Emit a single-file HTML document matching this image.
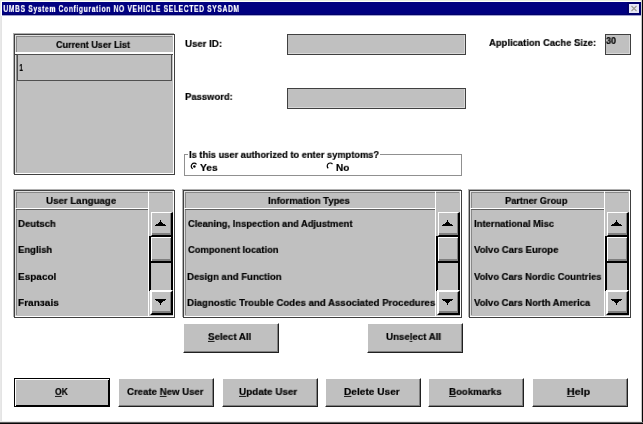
<!DOCTYPE html>
<html><head><meta charset="utf-8"><style>
html,body{margin:0;padding:0;width:643px;height:424px;overflow:hidden;background:#fff}
.t{position:absolute;will-change:transform;-webkit-text-stroke:0.2px currentColor;font-family:"Liberation Sans",sans-serif;font-weight:bold;font-size:10px;line-height:20px;white-space:nowrap;transform-origin:0 0}
u{text-decoration:underline;text-underline-offset:1px}
</style></head><body>
<div style="position:absolute;left:0px;top:0px;width:643px;height:424px;background:#fff"></div>
<div style="position:absolute;left:0px;top:0px;width:1px;height:424px;background:#e8e8e8"></div>
<div style="position:absolute;left:1px;top:16px;width:1px;height:406px;background:#e4e4e4"></div>
<div style="position:absolute;left:0px;top:0px;width:643px;height:1px;background:#e8eee0"></div>
<div style="position:absolute;left:641px;top:0px;width:1px;height:424px;background:#c8c8c8"></div>
<div style="position:absolute;left:642px;top:0px;width:1px;height:424px;background:#080808"></div>
<div style="position:absolute;left:0px;top:421px;width:642px;height:1px;background:#e8e8e8"></div>
<div style="position:absolute;left:0px;top:422px;width:643px;height:1px;background:#606060"></div>
<div style="position:absolute;left:0px;top:423px;width:643px;height:1px;background:#080808"></div>
<div style="position:absolute;left:2px;top:2px;width:639px;height:13px;background:#000080"></div>
<div style="position:absolute;left:2px;top:14px;width:639px;height:1px;background:#000068"></div>
<div style="position:absolute;left:2px;top:15px;width:639px;height:1px;background:#a0a0d0"></div>
<div style="position:absolute;left:627px;top:2px;width:14px;height:13px;background:#00006a"></div>
<div style="position:absolute;left:629px;top:4px;width:10px;height:9px;background:#e6e6f6"></div>
<svg style="position:absolute;left:629px;top:4px" width="10" height="9"><path d="M2.5 2 L7.5 7 M7.5 2 L2.5 7" stroke="#9a9a90" stroke-width="1.1"/></svg>
<div style="position:absolute;left:14px;top:34px;width:161px;height:141px;background:#404040"></div>
<div style="position:absolute;left:15px;top:35px;width:159px;height:139px;background:#fff"></div>
<div style="position:absolute;left:16px;top:36px;width:157px;height:137px;background:#c0c0c0"></div>
<div style="position:absolute;left:13px;top:33px;width:161px;height:1px;background:#b0b0b0"></div>
<div style="position:absolute;left:13px;top:33px;width:1px;height:141px;background:#b0b0b0"></div>
<div style="position:absolute;left:15px;top:35px;width:158px;height:1px;background:#e0e0e0"></div>
<div style="position:absolute;left:15px;top:35px;width:1px;height:138px;background:#e0e0e0"></div>
<div style="position:absolute;left:16px;top:36px;width:156px;height:1px;background:#888888"></div>
<div style="position:absolute;left:16px;top:36px;width:1px;height:136px;background:#888888"></div>
<div style="position:absolute;left:15px;top:52px;width:158px;height:2px;background:#fff"></div>
<div style="position:absolute;left:15px;top:54px;width:158px;height:1px;background:#404040"></div>
<div style="position:absolute;left:17px;top:54px;width:155px;height:27px;border:1px solid #505050;box-sizing:border-box"></div>
<div style="position:absolute;left:14px;top:190px;width:161px;height:128px;background:#404040"></div>
<div style="position:absolute;left:15px;top:191px;width:159px;height:126px;background:#fff"></div>
<div style="position:absolute;left:16px;top:192px;width:157px;height:124px;background:#c0c0c0"></div>
<div style="position:absolute;left:13px;top:189px;width:161px;height:1px;background:#b0b0b0"></div>
<div style="position:absolute;left:13px;top:189px;width:1px;height:128px;background:#b0b0b0"></div>
<div style="position:absolute;left:15px;top:191px;width:158px;height:1px;background:#e0e0e0"></div>
<div style="position:absolute;left:15px;top:191px;width:1px;height:125px;background:#e0e0e0"></div>
<div style="position:absolute;left:16px;top:192px;width:156px;height:1px;background:#888888"></div>
<div style="position:absolute;left:16px;top:192px;width:1px;height:123px;background:#888888"></div>
<div style="position:absolute;left:15px;top:208px;width:134px;height:1px;background:#fff"></div>
<div style="position:absolute;left:148px;top:191px;width:1px;height:125px;background:#fff"></div>
<div style="position:absolute;left:16px;top:209px;width:132px;height:1px;background:#606060"></div>
<div style="position:absolute;left:149px;top:263px;width:24px;height:28px;background:#c0c0c0;border-left:2px solid #000;border-right:2px solid #000;box-sizing:border-box"></div>
<div style="position:absolute;left:151px;top:212px;width:22px;height:24px;background:#c0c0c0;border-top:1px solid #fff;border-left:1px solid #fff;border-right:2px solid #000;border-bottom:1px solid #000;box-sizing:border-box;box-shadow:inset -1px -2px 0 #808080"></div>
<div style="position:absolute;left:149px;top:236px;width:24px;height:27px;background:#c0c0c0;border-top:1px solid #000;border-left:2px solid #000;border-right:2px solid #000;border-bottom:2px solid #000;box-sizing:border-box;box-shadow:inset 1px 1px 0 #fff, inset -1px -2px 0 #808080"></div>
<div style="position:absolute;left:150px;top:290px;width:23px;height:25px;background:#c0c0c0;border-top:2px solid #fff;border-left:2px solid #fff;border-right:2px solid #000;border-bottom:2px solid #000;box-sizing:border-box;box-shadow:inset -1px -2px 0 #808080"></div>
<svg style="position:absolute;left:0;top:0" width="643" height="424" shape-rendering="crispEdges" fill="#000"><rect x="160" y="220" width="1" height="1"/><rect x="160" y="221" width="1" height="1"/><rect x="159" y="222" width="3" height="1"/><rect x="158" y="223" width="5" height="1"/><rect x="156" y="224" width="9" height="1"/><rect x="155" y="225" width="11" height="1"/><rect x="155" y="299" width="11" height="1"/><rect x="156" y="300" width="9" height="1"/><rect x="158" y="301" width="5" height="1"/><rect x="159" y="302" width="3" height="1"/><rect x="160" y="303" width="1" height="1"/><rect x="160" y="304" width="1" height="1"/></svg>
<div style="position:absolute;left:183px;top:190px;width:279px;height:128px;background:#404040"></div>
<div style="position:absolute;left:184px;top:191px;width:277px;height:126px;background:#fff"></div>
<div style="position:absolute;left:185px;top:192px;width:275px;height:124px;background:#c0c0c0"></div>
<div style="position:absolute;left:182px;top:189px;width:279px;height:1px;background:#b0b0b0"></div>
<div style="position:absolute;left:182px;top:189px;width:1px;height:128px;background:#b0b0b0"></div>
<div style="position:absolute;left:184px;top:191px;width:276px;height:1px;background:#e0e0e0"></div>
<div style="position:absolute;left:184px;top:191px;width:1px;height:125px;background:#e0e0e0"></div>
<div style="position:absolute;left:185px;top:192px;width:274px;height:1px;background:#888888"></div>
<div style="position:absolute;left:185px;top:192px;width:1px;height:123px;background:#888888"></div>
<div style="position:absolute;left:184px;top:208px;width:252px;height:1px;background:#fff"></div>
<div style="position:absolute;left:435px;top:191px;width:1px;height:125px;background:#fff"></div>
<div style="position:absolute;left:185px;top:209px;width:250px;height:1px;background:#606060"></div>
<div style="position:absolute;left:436px;top:263px;width:24px;height:28px;background:#c0c0c0;border-left:2px solid #000;border-right:2px solid #000;box-sizing:border-box"></div>
<div style="position:absolute;left:438px;top:212px;width:22px;height:24px;background:#c0c0c0;border-top:1px solid #fff;border-left:1px solid #fff;border-right:2px solid #000;border-bottom:1px solid #000;box-sizing:border-box;box-shadow:inset -1px -2px 0 #808080"></div>
<div style="position:absolute;left:436px;top:236px;width:24px;height:27px;background:#c0c0c0;border-top:1px solid #000;border-left:2px solid #000;border-right:2px solid #000;border-bottom:2px solid #000;box-sizing:border-box;box-shadow:inset 1px 1px 0 #fff, inset -1px -2px 0 #808080"></div>
<div style="position:absolute;left:437px;top:290px;width:23px;height:25px;background:#c0c0c0;border-top:2px solid #fff;border-left:2px solid #fff;border-right:2px solid #000;border-bottom:2px solid #000;box-sizing:border-box;box-shadow:inset -1px -2px 0 #808080"></div>
<svg style="position:absolute;left:0;top:0" width="643" height="424" shape-rendering="crispEdges" fill="#000"><rect x="447" y="220" width="1" height="1"/><rect x="447" y="221" width="1" height="1"/><rect x="446" y="222" width="3" height="1"/><rect x="445" y="223" width="5" height="1"/><rect x="443" y="224" width="9" height="1"/><rect x="442" y="225" width="11" height="1"/><rect x="442" y="299" width="11" height="1"/><rect x="443" y="300" width="9" height="1"/><rect x="445" y="301" width="5" height="1"/><rect x="446" y="302" width="3" height="1"/><rect x="447" y="303" width="1" height="1"/><rect x="447" y="304" width="1" height="1"/></svg>
<div style="position:absolute;left:469px;top:190px;width:162px;height:128px;background:#404040"></div>
<div style="position:absolute;left:470px;top:191px;width:160px;height:126px;background:#fff"></div>
<div style="position:absolute;left:471px;top:192px;width:158px;height:124px;background:#c0c0c0"></div>
<div style="position:absolute;left:468px;top:189px;width:162px;height:1px;background:#b0b0b0"></div>
<div style="position:absolute;left:468px;top:189px;width:1px;height:128px;background:#b0b0b0"></div>
<div style="position:absolute;left:470px;top:191px;width:159px;height:1px;background:#e0e0e0"></div>
<div style="position:absolute;left:470px;top:191px;width:1px;height:125px;background:#e0e0e0"></div>
<div style="position:absolute;left:471px;top:192px;width:157px;height:1px;background:#888888"></div>
<div style="position:absolute;left:471px;top:192px;width:1px;height:123px;background:#888888"></div>
<div style="position:absolute;left:470px;top:208px;width:135px;height:1px;background:#fff"></div>
<div style="position:absolute;left:604px;top:191px;width:1px;height:125px;background:#fff"></div>
<div style="position:absolute;left:471px;top:209px;width:133px;height:1px;background:#606060"></div>
<div style="position:absolute;left:605px;top:263px;width:24px;height:28px;background:#c0c0c0;border-left:2px solid #000;border-right:2px solid #000;box-sizing:border-box"></div>
<div style="position:absolute;left:607px;top:212px;width:22px;height:24px;background:#c0c0c0;border-top:1px solid #fff;border-left:1px solid #fff;border-right:2px solid #000;border-bottom:1px solid #000;box-sizing:border-box;box-shadow:inset -1px -2px 0 #808080"></div>
<div style="position:absolute;left:605px;top:236px;width:24px;height:27px;background:#c0c0c0;border-top:1px solid #000;border-left:2px solid #000;border-right:2px solid #000;border-bottom:2px solid #000;box-sizing:border-box;box-shadow:inset 1px 1px 0 #fff, inset -1px -2px 0 #808080"></div>
<div style="position:absolute;left:606px;top:290px;width:23px;height:25px;background:#c0c0c0;border-top:2px solid #fff;border-left:2px solid #fff;border-right:2px solid #000;border-bottom:2px solid #000;box-sizing:border-box;box-shadow:inset -1px -2px 0 #808080"></div>
<svg style="position:absolute;left:0;top:0" width="643" height="424" shape-rendering="crispEdges" fill="#000"><rect x="616" y="220" width="1" height="1"/><rect x="616" y="221" width="1" height="1"/><rect x="615" y="222" width="3" height="1"/><rect x="614" y="223" width="5" height="1"/><rect x="612" y="224" width="9" height="1"/><rect x="611" y="225" width="11" height="1"/><rect x="611" y="299" width="11" height="1"/><rect x="612" y="300" width="9" height="1"/><rect x="614" y="301" width="5" height="1"/><rect x="615" y="302" width="3" height="1"/><rect x="616" y="303" width="1" height="1"/><rect x="616" y="304" width="1" height="1"/></svg>
<div style="position:absolute;left:287px;top:34px;width:179px;height:21px;background:#c0c0c0;border:1px solid #404040;box-sizing:border-box;box-shadow:inset -1px -1px 0 #d8d8d8"></div>
<div style="position:absolute;left:287px;top:88px;width:179px;height:21px;background:#c0c0c0;border:1px solid #404040;box-sizing:border-box;box-shadow:inset -1px -1px 0 #d8d8d8"></div>
<div style="position:absolute;left:605px;top:34px;width:26px;height:21px;background:#c0c0c0;border:1px solid #404040;box-sizing:border-box;box-shadow:inset -1px -1px 0 #d8d8d8"></div>
<div style="position:absolute;left:184px;top:154px;width:278px;height:22px;border:1px solid #909090;box-sizing:border-box"></div>
<div style="position:absolute;left:188px;top:150px;width:192px;height:8px;background:#fff"></div>
<svg style="position:absolute;left:0;top:0" width="643" height="424"><path d="M196.50 164.27 A3.0 3.0 0 1 0 192.70 168.80" stroke="#000" stroke-width="1.2" fill="none"/><circle cx="194.4" cy="166.5" r="1.2" fill="#000"/><path d="M332.50 164.07 A3.0 3.0 0 1 0 328.27 168.30" stroke="#000" stroke-width="1.2" fill="none"/></svg>
<div style="position:absolute;left:183px;top:323px;width:96px;height:30px;background:#c0c0c0;border-top:1px solid #fff;border-left:1px solid #fff;border-right:1px solid #202020;border-bottom:1px solid #202020;box-sizing:border-box;box-shadow:inset -1px -1px 0 #808080"></div>
<div style="position:absolute;left:367px;top:323px;width:96px;height:30px;background:#c0c0c0;border-top:1px solid #fff;border-left:1px solid #fff;border-right:1px solid #202020;border-bottom:1px solid #202020;box-sizing:border-box;box-shadow:inset -1px -1px 0 #808080"></div>
<div style="position:absolute;left:14px;top:378px;width:96px;height:29px;background:#c0c0c0;border:1px solid #000;box-sizing:border-box;box-shadow:inset 1px 1px 0 #fff, inset -1px -1px 0 #000"></div>
<div style="position:absolute;left:118px;top:378px;width:96px;height:29px;background:#c0c0c0;border-top:1px solid #fff;border-left:1px solid #fff;border-right:1px solid #202020;border-bottom:1px solid #202020;box-sizing:border-box;box-shadow:inset -1px -1px 0 #808080"></div>
<div style="position:absolute;left:222px;top:378px;width:96px;height:29px;background:#c0c0c0;border-top:1px solid #fff;border-left:1px solid #fff;border-right:1px solid #202020;border-bottom:1px solid #202020;box-sizing:border-box;box-shadow:inset -1px -1px 0 #808080"></div>
<div style="position:absolute;left:325px;top:378px;width:96px;height:29px;background:#c0c0c0;border-top:1px solid #fff;border-left:1px solid #fff;border-right:1px solid #202020;border-bottom:1px solid #202020;box-sizing:border-box;box-shadow:inset -1px -1px 0 #808080"></div>
<div style="position:absolute;left:428px;top:378px;width:96px;height:29px;background:#c0c0c0;border-top:1px solid #fff;border-left:1px solid #fff;border-right:1px solid #202020;border-bottom:1px solid #202020;box-sizing:border-box;box-shadow:inset -1px -1px 0 #808080"></div>
<div style="position:absolute;left:532px;top:378px;width:96px;height:29px;background:#c0c0c0;border-top:1px solid #fff;border-left:1px solid #fff;border-right:1px solid #202020;border-bottom:1px solid #202020;box-sizing:border-box;box-shadow:inset -1px -1px 0 #808080"></div>
<div class="t" style="left:3.20px;top:0px;letter-spacing:1.0px;color:#fff;transform-origin:1px 5px;transform:scale(0.6684,0.875)">UMBS System Configuration NO VEHICLE SELECTED SYSADM</div>
<div class="t" style="left:56.20px;top:36px;color:#000;transform-origin:0px 5px;transform:scale(0.9061,0.875)">Current User List</div>
<div class="t" style="left:19.00px;top:59px;color:#000;transform-origin:1px 5px;transform:scale(0.6400,0.875)">1</div>
<div class="t" style="left:184.90px;top:35px;color:#000;transform-origin:1px 5px;transform:scale(0.9649,0.875)">User ID:</div>
<div class="t" style="left:184.70px;top:88px;color:#000;transform-origin:1px 5px;transform:scale(0.9429,0.875)">Password:</div>
<div class="t" style="left:488.50px;top:34px;color:#000;transform-origin:0px 5px;transform:scale(0.9442,0.875)">Application Cache Size:</div>
<div class="t" style="left:606.30px;top:32px;color:#000;transform-origin:0px 5px;transform:scale(0.9091,0.875)">30</div>
<div class="t" style="left:189.10px;top:146px;color:#000;transform-origin:1px 5px;transform:scale(0.9296,0.875)">Is this user authorized to enter symptoms?</div>
<div class="t" style="left:199.90px;top:159px;color:#000;transform-origin:0px 5px;transform:scale(1.0235,0.875)">Yes</div>
<div class="t" style="left:335.60px;top:159px;color:#000;transform-origin:1px 5px;transform:scale(1.0000,0.875)">No</div>
<div class="t" style="left:45.80px;top:192px;color:#000;transform-origin:1px 5px;transform:scale(0.9718,0.875)">User Language</div>
<div class="t" style="left:267.70px;top:192px;color:#000;transform-origin:1px 5px;transform:scale(0.9529,0.875)">Information Types</div>
<div class="t" style="left:505.10px;top:192px;color:#000;transform-origin:1px 5px;transform:scale(0.9194,0.875)">Partner Group</div>
<div class="t" style="left:17.70px;top:215px;color:#000;transform-origin:1px 5px;transform:scale(0.9579,0.875)">Deutsch</div>
<div class="t" style="left:17.70px;top:241px;color:#000;transform-origin:1px 5px;transform:scale(0.9429,0.875)">English</div>
<div class="t" style="left:17.70px;top:268px;color:#000;transform-origin:1px 5px;transform:scale(1.0000,0.875)">Espacol</div>
<div class="t" style="left:17.80px;top:294px;color:#000;transform-origin:1px 5px;transform:scale(1.0077,0.875)">Franзais</div>
<div class="t" style="left:187.50px;top:215px;color:#000;transform-origin:0px 5px;transform:scale(0.9358,0.875)">Cleaning, Inspection and Adjustment</div>
<div class="t" style="left:187.50px;top:241px;color:#000;transform-origin:0px 5px;transform:scale(0.9365,0.875)">Component location</div>
<div class="t" style="left:186.50px;top:268px;color:#000;transform-origin:1px 5px;transform:scale(0.9557,0.875)">Design and Function</div>
<div class="t" style="left:186.90px;top:294px;color:#000;transform-origin:1px 5px;transform:scale(0.9637,0.875)">Diagnostic Trouble Codes and Associated Procedures</div>
<div class="t" style="left:474.30px;top:215px;color:#000;transform-origin:1px 5px;transform:scale(0.9405,0.875)">International Misc</div>
<div class="t" style="left:474.40px;top:241px;color:#000;transform-origin:0px 5px;transform:scale(0.9506,0.875)">Volvo Cars Europe</div>
<div class="t" style="left:474.40px;top:268px;color:#000;transform-origin:0px 5px;transform:scale(0.9422,0.875)">Volvo Cars Nordic Countries</div>
<div class="t" style="left:474.40px;top:294px;color:#000;transform-origin:0px 5px;transform:scale(0.9455,0.875)">Volvo Cars North America</div>
<div class="t" style="left:208.30px;top:328px;color:#000;transform-origin:0px 5px;transform:scale(0.9705,0.875)"><u>S</u>elect All</div>
<div class="t" style="left:386.00px;top:328px;color:#000;transform-origin:1px 5px;transform:scale(0.9691,0.875)">Unse<u>l</u>ect All</div>
<div class="t" style="left:55.00px;top:383px;color:#000;transform-origin:0px 5px;transform:scale(0.8533,0.875)"><u>O</u>K</div>
<div class="t" style="left:127.20px;top:383px;color:#000;transform-origin:0px 5px;transform:scale(0.9633,0.875)">Create <u>N</u>ew User</div>
<div class="t" style="left:238.50px;top:383px;color:#000;transform-origin:1px 5px;transform:scale(0.9879,0.875)"><u>U</u>pdate User</div>
<div class="t" style="left:344.20px;top:383px;color:#000;transform-origin:1px 5px;transform:scale(1.0130,0.875)"><u>D</u>elete User</div>
<div class="t" style="left:448.50px;top:383px;color:#000;transform-origin:1px 5px;transform:scale(0.9642,0.875)"><u>B</u>ookmarks</div>
<div class="t" style="left:567.30px;top:383px;color:#000;transform-origin:1px 5px;transform:scale(1.0750,0.875)"><u>H</u>elp</div>
</body></html>
